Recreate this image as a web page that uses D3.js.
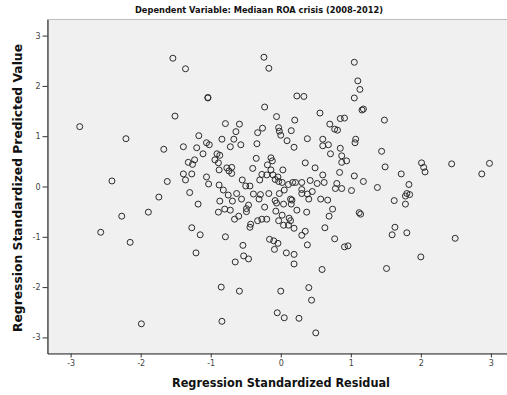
<!DOCTYPE html>
<html>
<head>
<meta charset="utf-8">
<script src="https://cdn.jsdelivr.net/npm/d3@7"></script>
<style>
  body { margin: 0; background: #fff; }
  svg { display: block; }
  text { font-family: "DejaVu Sans", sans-serif; }
</style>
</head>
<body>
<svg id="chart" width="507" height="395"></svg>
<script>
const title = "Dependent Variable: Mediaan ROA crisis (2008-2012)";
const xLabel = "Regression Standardized Residual";
const yLabel = "Regression Standardized Predicted Value";
const xTicks = [-3, -2, -1, 0, 1, 2, 3];
const yTicks = [-3, -2, -1, 0, 1, 2, 3];

// regression standardized residual (x) per case
const residual = [
  -1.54,-1.36,-1.51,-2.87,-2.21,-1.17,-0.24,-0.17,-1.04,-1.04,
  0.23,0.33,-0.23,-0.06,0.20,0.56,-0.79,-0.59,-0.64,-0.26,
  -0.33,-0.03,-0.02,0.00,0.15,0.70,0.77,0.81,0.85,0.91,
  -0.84,-0.67,0.09,0.38,0.60,1.05,1.10,1.13,1.05,1.16,
  1.18,1.48,1.07,-1.67,-1.39,-1.20,-1.23,-1.32,-1.26,-1.39,
  -1.27,-1.36,-2.41,-1.62,-1.30,-1.74,-1.18,-1.89,-2.27,-1.27,
  -2.57,-2.15,-1.15,-1.06,-1.02,-0.72,-0.57,-0.34,0.19,0.60,
  0.68,0.85,-1.11,-0.91,-0.87,-0.94,-0.89,-0.35,-0.14,-0.12,
  -0.19,0.71,0.87,0.94,0.87,0.35,-0.88,-0.77,-0.70,-0.74,
  -0.70,-0.40,-0.14,0.03,0.49,0.60,0.84,-1.06,-1.03,-0.55,
  -0.50,-0.44,-0.30,-0.27,-0.20,-0.11,-0.08,-0.03,-0.04,0.02,
  0.11,0.17,0.21,0.30,0.42,0.52,0.62,0.80,0.78,0.87,
  -0.88,-0.82,-0.75,-0.63,-0.39,-0.29,-0.31,-0.17,-0.02,0.05,
  0.14,0.16,0.30,0.30,0.38,0.40,0.45,0.57,0.67,-0.87,
  -0.69,-0.56,-0.46,-0.49,-0.23,-0.08,-0.06,0.04,0.15,0.23,
  0.37,0.74,-0.89,-0.80,-0.72,-0.49,-0.60,-0.66,-0.27,-0.20,
  -0.33,-0.03,-0.07,0.02,0.12,0.14,0.04,0.11,0.19,-0.43,
  -0.44,0.69,0.63,-0.79,0.30,0.35,0.77,-0.16,-0.10,-0.04,
  -0.54,0.38,0.91,0.96,1.06,1.44,1.49,1.05,1.18,1.01,
  1.38,1.72,2.01,2.04,2.06,2.44,2.98,2.87,1.83,1.80,
  1.84,1.78,1.78,1.62,1.12,1.14,1.63,1.59,1.80,2.49,
  -1.21,-1.99,-0.53,-0.46,-0.65,-0.09,0.08,0.19,0.19,0.59,
  -0.85,-0.59,0.00,0.40,0.44,-0.05,0.05,0.26,-0.84,0.50,
  1.51,2.00
];

// regression standardized predicted value (y) per case
const predicted = [
  2.55,2.34,1.40,1.19,0.95,1.01,2.57,2.35,1.77,1.76,
  1.80,1.79,1.58,1.39,1.32,1.46,1.25,1.24,1.09,1.16,
  1.07,1.17,1.10,1.02,1.11,1.24,1.14,1.12,1.35,1.36,
  0.94,0.94,0.91,0.95,0.94,2.47,2.10,1.93,1.76,1.52,
  1.54,1.32,0.94,0.74,0.79,0.77,0.53,0.48,0.44,0.25,
  0.25,0.13,0.11,0.10,-0.12,-0.21,-0.35,-0.51,-0.59,-0.82,
  -0.91,-1.11,-0.96,0.87,0.83,0.79,0.83,0.85,0.78,0.81,
  0.83,0.76,0.65,0.65,0.62,0.53,0.47,0.56,0.57,0.51,
  0.43,0.65,0.61,0.51,0.48,0.47,0.33,0.37,0.38,0.31,
  0.26,0.36,0.33,0.33,0.37,0.23,0.28,0.19,0.05,0.13,
  0.01,0.01,0.13,0.24,0.23,0.23,0.14,0.10,0.19,0.08,
  0.04,0.08,0.08,0.08,0.12,0.06,0.08,0.06,-0.04,-0.04,
  0.03,-0.07,-0.17,-0.14,-0.15,-0.16,-0.25,-0.14,-0.14,-0.07,
  -0.25,-0.27,-0.06,-0.14,-0.15,-0.25,-0.10,-0.25,-0.27,-0.29,
  -0.29,-0.25,-0.37,-0.44,-0.41,-0.28,-0.33,-0.35,-0.35,-0.47,
  -0.51,-0.45,-0.51,-0.45,-0.47,-0.50,-0.59,-0.65,-0.65,-0.65,
  -0.68,-0.68,-0.49,-0.57,-0.63,-0.68,-0.77,-0.77,-0.83,-0.75,
  -0.81,-0.59,-0.82,-1.00,-0.97,-0.89,-1.04,-1.05,-1.08,-1.13,
  -1.17,-1.16,-1.20,-1.18,0.87,0.70,0.39,0.21,0.10,-0.08,
  -0.02,0.25,0.47,0.38,0.29,0.45,0.46,0.25,0.04,-0.14,
  -0.16,-0.19,-0.35,-0.28,-0.52,-0.55,-0.81,-0.96,-0.92,-1.03,
  -1.32,-2.73,-1.38,-1.44,-1.50,-1.25,-1.32,-1.35,-1.54,-1.65,
  -2.00,-2.08,-2.08,-2.01,-2.26,-2.51,-2.61,-2.62,-2.68,-2.91,
  -1.63,-1.40
];

const points = residual.map((r, i) => ({x: r, y: predicted[i]}));

const svg = d3.select("#chart");
const plotLeft = 47.5, plotTop = 19.5, plotBottom = 353.5, plotRight = 514;

const x = d3.scaleLinear().domain([-3.33, 3.33]).range([plotLeft, plotRight]);
const y = d3.scaleLinear().domain([-3.32, 3.32]).range([plotBottom, plotTop]);

// plot background
svg.append("rect")
  .attr("x", plotLeft)
  .attr("y", plotTop)
  .attr("width", plotRight - plotLeft)
  .attr("height", plotBottom - plotTop)
  .attr("fill", "#f0f0f0")
  .attr("stroke", "#bdbdbd")
  .attr("stroke-width", 1);

// points
svg.append("g")
  .selectAll("circle")
  .data(points)
  .enter()
  .append("circle")
  .attr("cx", d => x(d.x))
  .attr("cy", d => y(d.y))
  .attr("r", 3)
  .attr("fill", "none")
  .attr("stroke", "#2b2b2b")
  .attr("stroke-width", 1);

// axes
const xAxis = svg.append("g")
  .attr("transform", `translate(0,${plotBottom})`)
  .call(d3.axisBottom(x).tickValues(xTicks).tickSize(4).tickSizeOuter(0).tickPadding(3)
    .tickFormat(d => String(d)));

const yAxis = svg.append("g")
  .attr("transform", `translate(${plotLeft},0)`)
  .call(d3.axisLeft(y).tickValues(yTicks).tickSize(5).tickSizeOuter(0).tickPadding(2)
    .tickFormat(d => String(d)));

[xAxis, yAxis].forEach(a => {
  a.select(".domain").attr("stroke", "#333").attr("stroke-width", 1.2);
  a.selectAll(".tick line").attr("stroke", "#333");
  a.selectAll(".tick text")
    .attr("fill", "#444")
    .attr("font-size", "8px")
    .attr("font-family", "DejaVu Sans, sans-serif");
});

// titles
svg.append("text")
  .attr("x", 259)
  .attr("y", 13)
  .attr("text-anchor", "middle")
  .attr("font-size", "9px")
  .attr("font-weight", "bold")
  .attr("fill", "#111")
  .attr("textLength", 248)
  .attr("lengthAdjust", "spacingAndGlyphs")
  .text(title);

svg.append("text")
  .attr("x", 281)
  .attr("y", 387)
  .attr("text-anchor", "middle")
  .attr("font-size", "12px")
  .attr("font-weight", "bold")
  .attr("fill", "#111")
  .attr("textLength", 218)
  .attr("lengthAdjust", "spacingAndGlyphs")
  .text(xLabel);

svg.append("text")
  .attr("transform", "translate(22,188) rotate(-90)")
  .attr("text-anchor", "middle")
  .attr("font-size", "12.5px")
  .attr("font-weight", "bold")
  .attr("fill", "#111")
  .attr("textLength", 288)
  .attr("lengthAdjust", "spacingAndGlyphs")
  .text(yLabel);
</script>
</body>
</html>
